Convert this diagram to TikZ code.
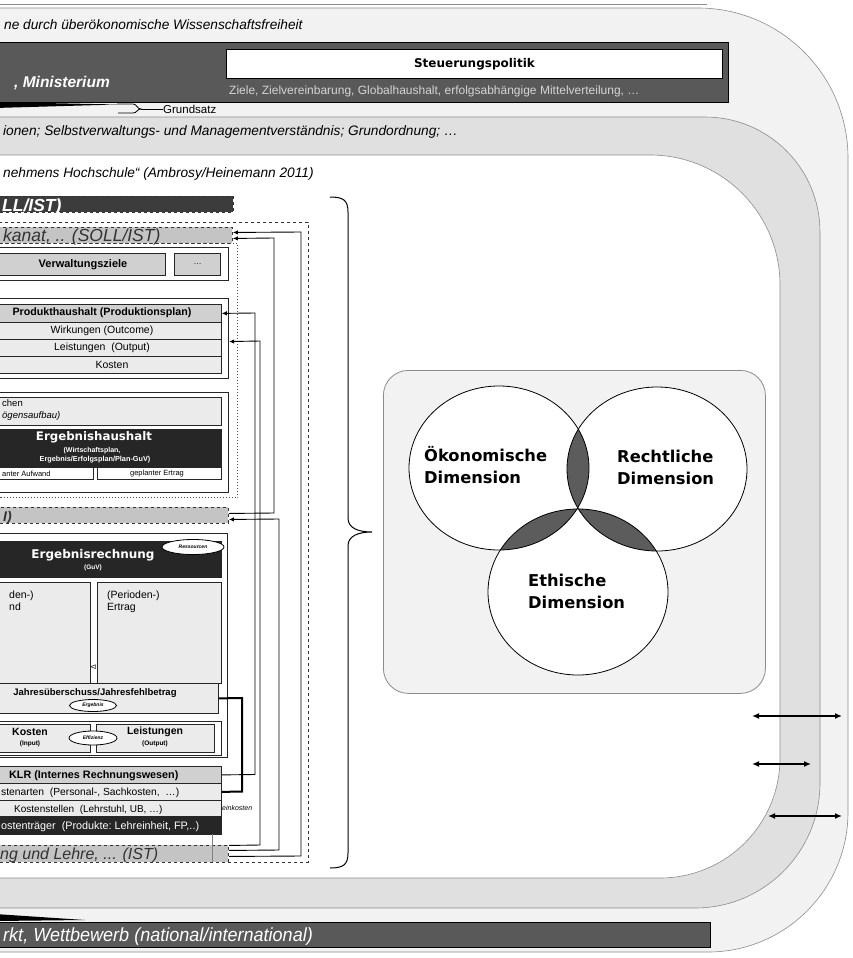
\documentclass[tikz,border=0pt]{standalone}
\usepackage{fontspec}
\setmainfont{Liberation Sans}
\newfontfamily\dvs{DejaVu Sans}
\newfontfamily\narrowsans[FakeStretch=0.95]{Liberation Sans}
\usetikzlibrary{arrows.meta,shapes.geometric}
\definecolor{bandA}{HTML}{F2F2F2}
\definecolor{bandB}{HTML}{E0E0E0}
\definecolor{bandline}{HTML}{8C8C8C}
\definecolor{darkbar}{HTML}{595959}
\definecolor{blackbox}{HTML}{262626}
\definecolor{dkfill}{HTML}{3C3C3C}
\definecolor{rowgray}{HTML}{D0D0D0}
\definecolor{rowlight}{HTML}{EBEBEB}
\definecolor{dashgray}{HTML}{C4C4C4}
\definecolor{lens}{HTML}{5C5C5C}
\definecolor{zielgray}{HTML}{D4D4D4}
\newcommand\fsz[1]{\fontsize{#1}{#1}\selectfont}
\begin{document}
\begin{tikzpicture}[x=1pt,y=-1pt,
  bandtxt/.style={anchor=base west,inner sep=0pt,font=\fsz{13.7}\itshape},
  tx/.style={anchor=base west,inner sep=0pt},
  ctx/.style={anchor=center,inner sep=0pt},
  frame/.style={draw=black!85,line width=1.1pt,fill=white,anchor=north west,inner sep=0pt},
  row/.style={draw=black!85,line width=0.8pt,anchor=north west,inner sep=0pt,minimum width=251},
  dbar/.style={draw=black!80,dashed,line width=0.9pt,anchor=north west,inner sep=0pt},
  oval/.style={ellipse,draw=black,line width=0.8pt,fill=white,inner sep=0pt,font=\fsz{5}\bfseries\itshape},
  conn/.style={line width=0.9pt,-{Latex[length=5pt,width=4.5pt]}},
  dblarrow/.style={{Latex[length=7pt,width=6pt]}-{Latex[length=7pt,width=6pt]},line width=1.5pt},
  vlabel/.style={anchor=north west,align=left,inner sep=0pt,font=\dvs\bfseries\fontsize{16.3}{22}\selectfont}]
\useasboundingbox (0,0) rectangle (853,958);
\clip (0,0) rectangle (853,958);
% bands
\draw[bandline,line width=0.6pt] (-30,4) -- (707,4);
\filldraw[fill=bandA,draw=bandline,line width=0.6pt] (-30,8) -- (698,8) .. controls (780.8,8) and (848,75.2) .. (848,158) -- (848,812) .. controls (848,889.3) and (785.3,952) .. (708,952) -- (-30,952) -- cycle;
\filldraw[fill=bandB,draw=bandline,line width=0.6pt] (-30,117) -- (705,117) .. controls (768.5,117) and (820,168.5) .. (820,232) -- (820,783) .. controls (820,852) and (764,908) .. (695,908) -- (-30,908) -- cycle;
\filldraw[fill=white,draw=bandline,line width=0.6pt] (-30,155) -- (650,155) .. controls (721.8,155) and (780,213.2) .. (780,285) -- (780,758) .. controls (780,824.3) and (726.3,878) .. (660,878) -- (-30,878) -- cycle;
\node[bandtxt] (t1) at (4,30) {ne durch überökonomische Wissenschaftsfreiheit};
\node[bandtxt] (t2) at (3,135) {ionen; Selbstverwaltungs- und Managementverständnis; Grundordnung; \dots};
\node[bandtxt] (t3) at (3,177) {nehmens Hochschule“ (Ambrosy/Heinemann 2011)};
% ministerium bar
\node[draw=black,line width=0.8pt,fill=darkbar,anchor=north west,inner sep=0pt,minimum width=758,minimum height=60] (minbar) at (-30,42) {};
\node[draw=black,line width=1pt,fill=white,anchor=north west,inner sep=0pt,minimum width=496,minimum height=29,font=\dvs\bfseries\fsz{12}] (steu) at (226,49) {Steuerungspolitik};
\node[tx,text=white,font=\fsz{15.5}\bfseries\itshape] (minis) at (14,87) {, Ministerium};
\node[tx,text=zielgray,font=\fsz{12}] (ziele) at (229,94) {Ziele, Zielvereinbarung, Globalhaushalt, erfolgsabhängige Mittelverteilung, \dots};
% Grundsatz
\fill[black] (-5,102) -- (117,104.5) -- (-5,108) -- cycle;
\node[anchor=west,inner sep=0pt,font=\fsz{11.5}] (grund) at (163,109) {Grundsatz};
\coordinate (gtip) at (141,109);
\draw[line width=0.8pt] (118,113) -- (133,113) .. controls (137,113) and (137,109) .. (gtip) .. controls (137,109) and (137,104) .. (133,104) -- (117,104);
\draw[line width=0.8pt] (gtip) -- (grund.west);
% Markt bar
\fill[black] (-5,914) -- (85,920) -- (-5,921) -- cycle;
\node[draw=black,line width=0.8pt,fill=darkbar,anchor=north west,inner sep=0pt,minimum width=740,minimum height=25] (markt) at (-30,922) {};
\node[tx,text=white,font=\narrowsans\fsz{19}\itshape] (markttxt) at (3,941.5) {rkt, Wettbewerb (national/international)};
% right arrows
\coordinate (a1l) at (752,716); \coordinate (a1r) at (842,716);
\coordinate (a2l) at (752,764); \coordinate (a2r) at (811,764);
\coordinate (a3l) at (768,816); \coordinate (a3r) at (842,816);
\draw[dblarrow] (a1l) -- (a1r);
\draw[dblarrow] (a2l) -- (a2r);
\draw[dblarrow] (a3l) -- (a3r);
% brace
\coordinate (bracetip) at (372,532);
\draw[line width=1pt] (330,197) .. controls (343,197) and (348,200) .. (348,212) -- (348,518) .. controls (348,528) and (358,532) .. (bracetip) .. controls (358,532) and (348,536) .. (348,546) -- (348,853) .. controls (348,865) and (343,868) .. (330,868);
% Venn
\node[draw=bandline,line width=0.8pt,fill=bandA,rounded corners=25pt,anchor=north west,inner sep=0pt,minimum width=382,minimum height=323] (vennbox) at (383,370) {};
\coordinate (cL) at (499,468); \coordinate (cR) at (657,469); \coordinate (cB) at (578,592);
\fill[white] (cL) ellipse [x radius=90pt,y radius=82pt];
\fill[white] (cR) ellipse [x radius=90pt,y radius=82pt];
\fill[white] (cB) ellipse [x radius=90pt,y radius=83pt];
\begin{scope}
\clip (cL) ellipse [x radius=90pt,y radius=82pt];
\fill[lens] (cR) ellipse [x radius=90pt,y radius=82pt];
\fill[lens] (cB) ellipse [x radius=90pt,y radius=83pt];
\end{scope}
\begin{scope}
\clip (cR) ellipse [x radius=90pt,y radius=82pt];
\fill[lens] (cB) ellipse [x radius=90pt,y radius=83pt];
\end{scope}
\node[ellipse,draw=black,line width=0.8pt,minimum width=180,minimum height=164,inner sep=0pt] (oek) at (cL) {};
\node[ellipse,draw=black,line width=0.8pt,minimum width=180,minimum height=164,inner sep=0pt] (recht) at (cR) {};
\node[ellipse,draw=black,line width=0.8pt,minimum width=180,minimum height=166,inner sep=0pt] (eth) at (cB) {};
\node[vlabel] (lOek) at (424,446) {Ökonomische\\Dimension};
\node[vlabel] (lRecht) at (617,450) {Rechtliche\\Dimension};
\node[vlabel] (lEth) at (528,574) {Ethische\\Dimension};
% left structure
\node[dbar,fill=dkfill,minimum width=263,minimum height=16] (sollA) at (-30,196) {};
\node[tx,text=white,font=\fsz{17.5}\bfseries\itshape] (sollAtxt) at (2,211.5) {LL/IST)};
\node[draw=black!80,dashed,line width=0.9pt,anchor=north west,inner sep=0pt,minimum width=338,minimum height=640] (outerdash) at (-30,222) {};
\node[dbar,fill=dashgray,minimum width=262,minimum height=16] (kanat) at (-30,227) {};
\node[tx,text=black!80,font=\fsz{17.5}\itshape] (kanattxt) at (3,241.5) {kanat, .. (SOLL/IST)};
\node[draw=black!70,dotted,line width=1pt,anchor=north west,inner sep=0pt,minimum width=267,minimum height=254] (dotrect) at (-30,243) {};
% Verwaltungsziele
\node[frame,minimum width=258,minimum height=33] (vzframe) at (-30,247) {};
\node[frame,fill=rowgray,minimum width=195,minimum height=22] (vz) at (-30,253) {};
\node[ctx,font=\fsz{11}\bfseries] (vztxt) at (83,264.5) {Verwaltungsziele};
\node[frame,fill=rowgray,minimum width=46,minimum height=22,font=\fsz{8}] (vzdots) at (174,253) {\dots};
% Produkthaushalt
\node[frame,minimum width=258,minimum height=80] (phframe) at (-30,298) {};
\node[row,fill=rowgray,minimum height=18] (ph1) at (-30,304) {};
\node[row,fill=rowlight,minimum height=17] (ph2) at (-30,322) {};
\node[row,fill=rowlight,minimum height=17] (ph3) at (-30,339) {};
\node[row,fill=rowlight,minimum height=17] (ph4) at (-30,356) {};
\node[ctx,font=\fsz{10.7}\bfseries] at (102,313) {Produkthaushalt (Produktionsplan)};
\node[ctx,font=\fsz{10.5}] at (102,330.5) {Wirkungen (Outcome)};
\node[ctx,font=\fsz{10.5}] at (102,347.5) {Leistungen\ \ (Output)};
\node[ctx,font=\fsz{10.5}] at (112,364.5) {Kosten};
% Ergebnishaushalt group
\node[frame,minimum width=258,minimum height=100] (g3frame) at (-30,392) {};
\node[row,fill=rowlight,minimum height=28] (vb) at (-30,397) {};
\node[tx,font=\fsz{9.5}] at (2,406.5) {chen};
\node[tx,font=\fsz{9.5}\itshape] at (2,418.5) {ögensaufbau)};
\node[row,fill=blackbox,minimum height=38] (eh) at (-30,429) {};
\node[ctx,text=white,font=\dvs\bfseries\fsz{11.8}] at (94,437) {Ergebnishaushalt};
\node[ctx,text=white,font=\fsz{7}\bfseries] at (92,450.5) {(Wirtschaftsplan,};
\node[ctx,text=white,font=\fsz{7.3}\bfseries] at (95,460) {Ergebnis/Erfolgsplan/Plan-GuV)};
\node[row,fill=white,minimum width=123,minimum height=12] (aufw) at (-30,467) {};
\node[row,fill=white,minimum width=124,minimum height=12] (ertr) at (97,467) {};
\node[tx,font=\fsz{7.5}] at (2,476) {anter Aufwand};
\node[ctx,font=\fsz{7.5}] at (157,473.5) {geplanter Ertrag};
% IST bar middle
\node[dbar,fill=dashgray,minimum width=258,minimum height=16] (istbar) at (-30,507) {};
\node[tx,text=black!80,font=\fsz{14}\bfseries\itshape] at (3,521) {I)};
% Ergebnisrechnung
\node[frame,minimum width=257,minimum height=224] (erframe) at (-30,533) {};
\node[row,fill=blackbox,minimum height=36] (erh) at (-30,541) {};
\node[ctx,text=white,font=\dvs\bfseries\fsz{12}] at (93,555) {Ergebnisrechnung};
\node[ctx,text=white,font=\fsz{6.5}\bfseries] at (93,568) {(GuV)};
\node[oval,minimum width=62,minimum height=15] (ress) at (193,547) {Ressourcen};
\node[row,fill=rowlight,minimum width=120,minimum height=101] (aufwbox) at (-30,582) {};
\node[row,fill=rowlight,minimum width=124,minimum height=101] (ertrbox) at (97,582) {};
\node[tx,font=\fsz{10.5}] at (9,598) {den-)};
\node[tx,font=\fsz{10.5}] at (9,610) {nd};
\node[tx,font=\fsz{10.5}] at (107,598) {(Perioden-)};
\node[tx,font=\fsz{10.5}] at (107,610) {Ertrag};
\node[ctx,rotate=90,font=\fsz{7}] (delta) at (93.5,667) {Δ};
\node[row,fill=rowlight,minimum width=248,minimum height=30] (jue) at (-30,683) {};
\node[ctx,font=\fsz{9.5}\bfseries] at (95,693) {Jahresüberschuss/Jahresfehlbetrag};
\node[oval,minimum width=47,minimum height=12] (erg) at (93,705.5) {Ergebnis};
\node[frame,minimum width=251,minimum height=34] (klframe) at (-30,721) {};
\node[row,fill=rowlight,minimum width=120,minimum height=28] (kost) at (-30,724) {};
\node[row,fill=rowlight,minimum width=118,minimum height=28] (leist) at (96,724) {};
\node[ctx,font=\fsz{10.5}\bfseries] at (30,732) {Kosten};
\node[ctx,font=\fsz{6.5}\bfseries] at (30,744) {(Input)};
\node[ctx,font=\fsz{10.5}\bfseries] at (155,732) {Leistungen};
\node[ctx,font=\fsz{6.5}\bfseries] at (155,744) {(Output)};
\node[oval,minimum width=48,minimum height=14] (eff) at (93,738) {Effizienz};
% KLR
\node[row,fill=rowgray,minimum height=17] (klr1) at (-30,766) {};
\node[row,fill=rowlight,minimum height=17] (klr2) at (-30,783) {};
\node[row,fill=rowlight,minimum height=16] (klr3) at (-30,800) {};
\node[row,fill=blackbox,minimum height=18] (klr4) at (-30,816) {};
\node[tx,font=\fsz{10.8}\bfseries] at (9,778.5) {KLR (Internes Rechnungswesen)};
\node[tx,font=\fsz{10.3}] at (1,795.5) {stenarten\ \ (Personal-,\ Sachkosten,\ \ \dots)};
\node[tx,font=\fsz{10}] at (14,812) {Kostenstellen\ \ (Lehrstuhl,\ UB,\ \dots)};
\node[tx,text=white,font=\fsz{10.8}] at (1,829.5) {ostenträger\ \ (Produkte:\ Lehreinheit,\ FP,..)};
\node[tx,font=\fsz{7}\itshape] at (222,810) {einkosten};
% bottom IST bar
\node[dbar,fill=dashgray,minimum width=258,minimum height=17] (lehre) at (-30,845) {};
\draw[gray,line width=0.6pt] (212,834) -- (212,862);
\node[tx,text=black!80,font=\fsz{16}\itshape] at (0,859.5) {ng und Lehre, ... (IST)};
% connectors
\draw[conn] ([yshift=-2.5pt]lehre.east) -- (301,856) -- (301,232) -- ([yshift=3pt]kanat.east);
\draw[conn] ([yshift=2pt]istbar.east) -- (274,513) -- (274,238) -- ([yshift=-3pt]kanat.east);
\draw[conn] ([yshift=3.5pt]lehre.east) -- (279,850) -- (279,519) -- ([yshift=-4pt]istbar.east);
\draw[conn] (klr1.east) -- (255,774.5) -- (255,313) -- (ph1.east);
\draw[conn] ([yshift=8.5pt]lehre.east) -- (260,845) -- (260,341) -- ([yshift=-3pt]phframe.east);
\draw[line width=2pt] (jue.east) -- (242,698) -- (242,791.5) -- (klr2.east);
\end{tikzpicture}
\end{document}
